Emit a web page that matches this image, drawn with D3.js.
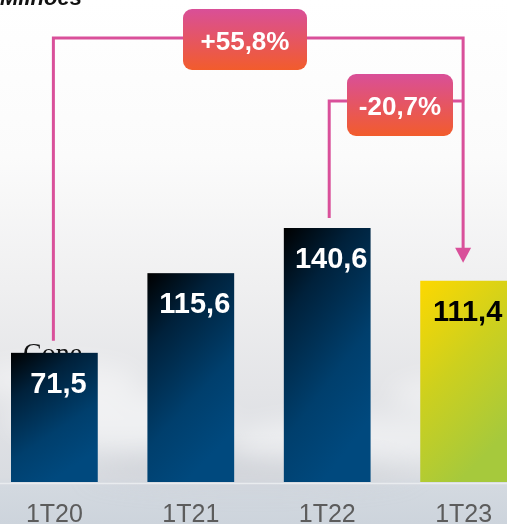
<!DOCTYPE html>
<html>
<head>
<meta charset="utf-8">
<script src="https://cdn.jsdelivr.net/npm/d3@7"></script>
<style>
  body { margin: 0; padding: 0; overflow: hidden; }
  svg { display: block; }
</style>
</head>
<body>
<svg id="chart" width="507" height="524"></svg>
<script>
// quarterly revenue bars with growth annotations

var categories = ["1T20", "1T21", "1T22", "1T23"];
var values = [71.5, 115.6, 140.6, 111.4];
var valueLabels = ["71,5", "115,6", "140,6", "111,4"];
var growthFrom = ["1T20", "1T22"];
var growthTo = ["1T23", "1T23"];
var growthLabels = ["+55,8%", "-20,7%"];
var unitLabel = "Milhões";

var svg = d3.select("#chart"),
    width = +svg.attr("width"),
    height = +svg.attr("height"),
    baseline = 482;

var defs = svg.append("defs");

// sky background
var bg = defs.append("linearGradient")
    .attr("id", "sky")
    .attr("x1", 0).attr("y1", 0).attr("x2", 0).attr("y2", 1);
[[0, "#ffffff"], [0.3, "#fbfbfb"], [0.55, "#efeff0"], [0.75, "#e3e4e7"],
 [0.91, "#d9dce1"], [0.93, "#d3d9e0"], [1, "#cdd4dc"]].forEach(function(s) {
    bg.append("stop").attr("offset", s[0]).attr("stop-color", s[1]);
});

var blur = defs.append("filter").attr("id", "blur")
    .attr("x", "-50%").attr("y", "-50%").attr("width", "200%").attr("height", "200%");
blur.append("feGaussianBlur").attr("stdDeviation", 12);

var navy = defs.append("linearGradient")
    .attr("id", "navy")
    .attr("x1", 0).attr("y1", 0).attr("x2", 0.45).attr("y2", 1);
navy.append("stop").attr("offset", 0).attr("stop-color", "#000000");
navy.append("stop").attr("offset", 0.3).attr("stop-color", "#00213b");
navy.append("stop").attr("offset", 0.7).attr("stop-color", "#003f6d");
navy.append("stop").attr("offset", 1).attr("stop-color", "#00497e");

var lime = defs.append("linearGradient")
    .attr("id", "lime")
    .attr("x1", 0).attr("y1", 0).attr("x2", 0.45).attr("y2", 1);
lime.append("stop").attr("offset", 0).attr("stop-color", "#fdd800");
lime.append("stop").attr("offset", 0.5).attr("stop-color", "#cdd01e");
lime.append("stop").attr("offset", 1).attr("stop-color", "#a6c93c");

var badge = defs.append("linearGradient")
    .attr("id", "badge")
    .attr("x1", 0).attr("y1", 0).attr("x2", 0).attr("y2", 1);
badge.append("stop").attr("offset", 0).attr("stop-color", "#d94f98");
badge.append("stop").attr("offset", 1).attr("stop-color", "#f25c2c");

svg.append("rect")
    .attr("width", width).attr("height", height)
    .attr("fill", "url(#sky)");

// faint clouds
var clouds = svg.append("g").attr("filter", "url(#blur)");
[[120, 420, 110, 28, "#ffffff", 0.5], [360, 440, 130, 24, "#ffffff", 0.45],
 [250, 470, 160, 14, "#c9ccd2", 0.5], [60, 380, 80, 20, "#ffffff", 0.4],
 [460, 395, 70, 20, "#ffffff", 0.4]].forEach(function(c) {
    clouds.append("ellipse")
        .attr("cx", c[0]).attr("cy", c[1]).attr("rx", c[2]).attr("ry", c[3])
        .attr("fill", c[4]).attr("opacity", c[5]);
});

svg.append("line")
    .attr("x1", 0).attr("x2", width)
    .attr("y1", baseline + 1.5).attr("y2", baseline + 1.5)
    .attr("stroke", "#e9ecef").attr("stroke-width", 1.5);

// scales
var xScale = d3.scaleBand()
    .domain(categories)
    .range([11, 507])
    .paddingInner(0.364)
    .paddingOuter(0);

var yScale = d3.scaleLinear()
    .domain([0, 140.6])
    .range([baseline, 228]);

function cx(c) { return xScale(c) + xScale.bandwidth() / 2; }

// unit label at top
svg.append("text")
    .attr("x", 0).attr("y", 5)
    .attr("font-family", "Liberation Sans, Arial, sans-serif")
    .attr("font-size", 22)
    .attr("font-weight", "bold")
    .attr("font-style", "italic")
    .attr("fill", "#111")
    .text(unitLabel);

// stray text behind first bar
svg.append("text")
    .attr("x", 23).attr("y", 362)
    .attr("font-family", "Liberation Serif, Times New Roman, serif")
    .attr("font-size", 28)
    .attr("fill", "#111")
    .text("Cone");

// bars
var data = categories.map(function(c, i) {
    return { cat: c, value: values[i], label: valueLabels[i], last: i === categories.length - 1 };
});

svg.selectAll("rect.bar")
    .data(data)
    .enter().append("rect")
    .attr("class", "bar")
    .attr("x", function(d) { return xScale(d.cat); })
    .attr("width", xScale.bandwidth())
    .attr("y", function(d) { return yScale(d.value); })
    .attr("height", function(d) { return baseline - yScale(d.value); })
    .attr("fill", function(d) { return d.last ? "url(#lime)" : "url(#navy)"; });

svg.selectAll("text.value")
    .data(data)
    .enter().append("text")
    .attr("class", "value")
    .attr("x", function(d) { return cx(d.cat) + 4; })
    .attr("y", function(d) { return yScale(d.value) + 40; })
    .attr("text-anchor", "middle")
    .attr("font-family", "Liberation Sans, Arial, sans-serif")
    .attr("font-size", 29)
    .attr("font-weight", "bold")
    .attr("fill", function(d) { return d.last ? "#000" : "#fff"; })
    .text(function(d) { return d.label; });

// category axis
var xAxis = d3.axisBottom(xScale).tickSize(0).tickPadding(0);
var axisG = svg.append("g")
    .attr("transform", "translate(0," + baseline + ")")
    .call(xAxis);
axisG.select(".domain").remove();
axisG.selectAll("text")
    .attr("y", 40)
    .attr("dy", 0)
    .attr("font-family", "Liberation Sans, Arial, sans-serif")
    .attr("font-size", 25)
    .attr("fill", "#5c5c5c");

// growth annotations
var levels = [38, 101],
    badgeBoxes = [{ x: 183, y: 9, w: 124, h: 61 }, { x: 347, y: 74, w: 106, h: 62 }];

growthLabels.forEach(function(label, i) {
    var fromCat = growthFrom[i], toCat = growthTo[i],
        fi = categories.indexOf(fromCat), ti = categories.indexOf(toCat),
        x0 = cx(fromCat) - 1 + (i === 1 ? 3 : 0),
        x1 = cx(toCat) - 0.5,
        y0 = yScale(values[fi]) - (i === 0 ? 12 : 10),
        yl = levels[i];

    var path = "M" + x0 + "," + y0 + " L" + x0 + "," + yl + " L" + x1 + "," + yl;
    if (i === 0) {
        var tip = yScale(values[ti]) - 18;
        path += " L" + x1 + "," + (tip - 12);
        svg.append("path")
            .attr("d", "M" + (x1 - 8) + "," + (tip - 15) + " L" + (x1 + 8) + "," + (tip - 15) +
                       " L" + x1 + "," + tip + " Z")
            .attr("fill", "#d9509a");
    }
    svg.append("path")
        .attr("d", path)
        .attr("fill", "none")
        .attr("stroke", "#d9509a")
        .attr("stroke-width", 3);
});

growthLabels.forEach(function(label, i) {
    var b = badgeBoxes[i];
    svg.append("rect")
        .attr("x", b.x).attr("y", b.y)
        .attr("width", b.w).attr("height", b.h)
        .attr("rx", 9).attr("ry", 9)
        .attr("fill", "url(#badge)");
    svg.append("text")
        .attr("x", b.x + b.w / 2)
        .attr("y", b.y + b.h / 2 + 10)
        .attr("text-anchor", "middle")
        .attr("font-family", "Liberation Sans, Arial, sans-serif")
        .attr("font-size", 26)
        .attr("font-weight", "bold")
        .attr("fill", "#fff")
        .text(label);
});
</script>
</body>
</html>
